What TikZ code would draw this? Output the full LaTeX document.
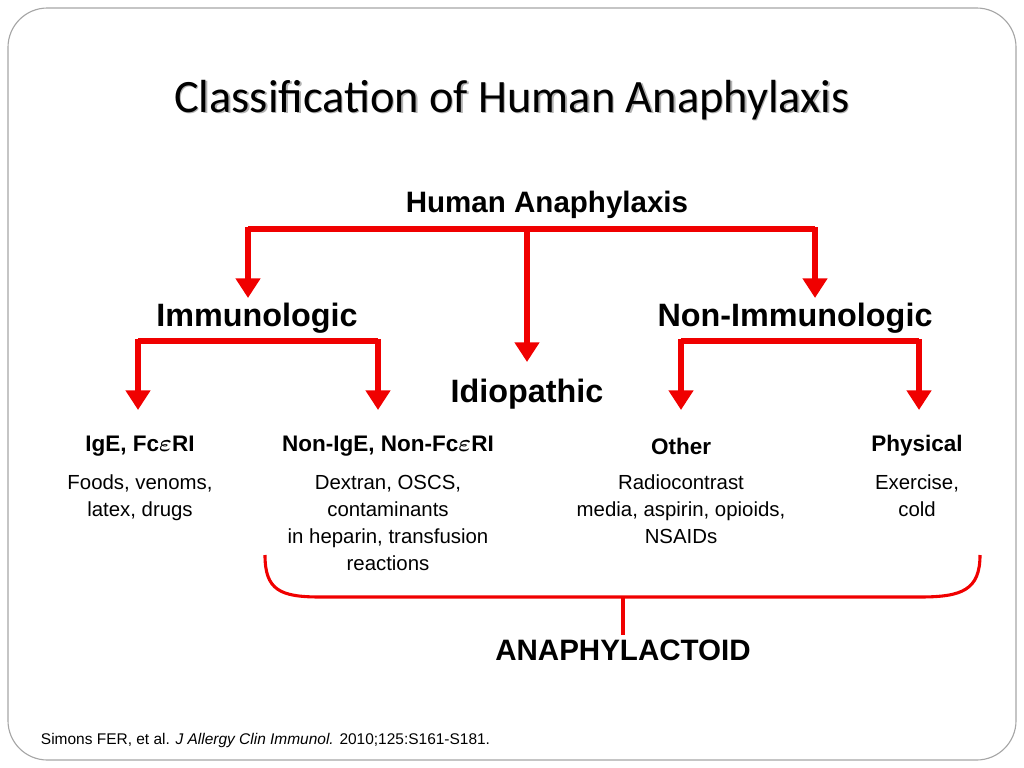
\documentclass[tikz,border=0pt]{standalone}
\usepackage{amsmath}
\usepackage{fontspec}
\setmainfont{Liberation Sans}
\newfontfamily\titlefont{Carlito}
\usetikzlibrary{arrows.meta}
\definecolor{treered}{RGB}{240,0,0}

\begin{document}
\begin{tikzpicture}[x=0.025cm, y=-0.025cm,
	branch/.style = {line width = 4pt, draw = treered},
	tip/.style = {branch, -{Triangle[length=14pt, width=17pt]}},
	grouplabel/.style = {font = \fontsize{23}{27}\selectfont\bfseries},
	kindlabel/.style = {font = \fontsize{16}{19}\selectfont\bfseries},
	examples/.style = {font = \fontsize{14.5}{19.2}\selectfont, align = center, anchor = north}]
	\useasboundingbox (0,0) rectangle (1024,768);
	\draw[gray!70, line width = 0.8pt, rounded corners = 28] (8,8) rectangle (1016,760);
	% title with shadow
	\node[gray!60, font = \titlefont\fontsize{33}{38}\selectfont] at (513.5,101.5) {Classification of Human Anaphylaxis};
	\node (title) [font = \titlefont\fontsize{33}{38}\selectfont] at (512,100) {Classification of Human Anaphylaxis};
	% tree
	\node (root) [font = \fontsize{21}{25}\selectfont\bfseries] at (547,205) {Human Anaphylaxis};
	\node (immuno) [grouplabel] at (257,318) {Immunologic};
	\node (nonimmuno) [grouplabel] at (795,318) {Non-Immunologic};
	\node (idio) [grouplabel] at (527,394) {Idiopathic};
	\coordinate (rootjoin) at (527,229);
	\draw[branch] (248,229) -- (815,229);
	\draw[tip] (248,227) -- (248,298);
	\draw[tip] (815,227) -- (815,298);
	\draw[tip] (rootjoin) -- (527,362);
	\draw[branch] (138,341) -- (378,341);
	\draw[tip] (138,339) -- (138,410);
	\draw[tip] (378,339) -- (378,410);
	\draw[branch] (681,341) -- (919,341);
	\draw[tip] (681,339) -- (681,410);
	\draw[tip] (919,339) -- (919,410);
	% kinds
	\node (ige) [kindlabel] at (140,446) {IgE, Fc$\boldsymbol{\varepsilon}$RI};
	\node (nonige) [kindlabel] at (388,446) {Non-IgE, Non-Fc$\boldsymbol{\varepsilon}$RI};
	\node (other) [kindlabel] at (681,446) {Other};
	\node (physical) [kindlabel] at (917,446) {Physical};
	\node (igeex) [examples] at (140,470) {Foods, venoms,\\latex, drugs};
	\node (nonigeex) [examples] at (388,470) {Dextran, OSCS,\\contaminants\\in heparin, transfusion\\reactions};
	\node (otherex) [examples] at (681,470) {Radiocontrast\\media, aspirin, opioids,\\NSAIDs};
	\node (physicalex) [examples] at (917,470) {Exercise,\\cold};
	% brace
	\draw[branch, line width = 2.2pt] (265,555) .. controls (265,590) and (280,597) .. (320,597)
		-- (920,597) .. controls (962,597) and (980,590) .. (980,555);
	\node (anaph) [font = \fontsize{21}{25}\selectfont\bfseries] at (623,650) {ANAPHYLACTOID};
	\draw[branch, line width = 2.2pt] (623,597) -- (anaph.north);
	\node (cite) [anchor = west, font = \fontsize{11}{13}\selectfont] at (36,740) {Simons FER, et al. \textit{J Allergy Clin Immunol.} 2010;125:S161-S181.};
\end{tikzpicture}
\end{document}
